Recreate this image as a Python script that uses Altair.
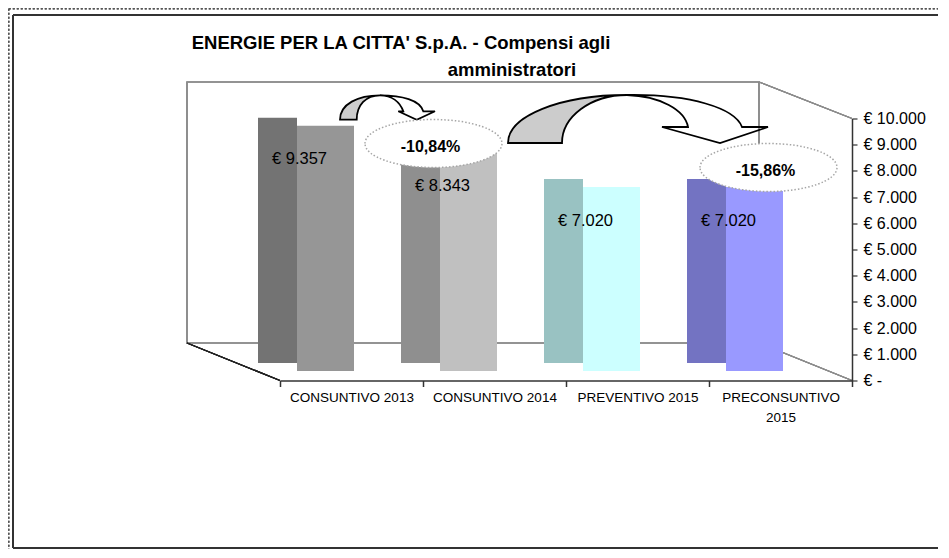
import altair as alt
import pandas as pd

# ---------------- data ----------------
categories = ["CONSUNTIVO 2013", "CONSUNTIVO 2014", "PREVENTIVO 2015", "PRECONSUNTIVO 2015"]
values = [9357, 8343, 7020, 7020]
front_colors = ["#969696", "#c0c0c0", "#ccffff", "#9999ff"]
side_colors = ["#737373", "#8f8f8f", "#99c2c2", "#7373c2"]
y_ticks = [0, 1000, 2000, 3000, 4000, 5000, 6000, 7000, 8000, 9000, 10000]
pct_labels = ["-10,84%", "-15,86%"]
pct_from = ["CONSUNTIVO 2013", "PREVENTIVO 2015"]
pct_to = ["CONSUNTIVO 2014", "PRECONSUNTIVO 2015"]
title_lines = ["ENERGIE PER LA CITTA' S.p.A. - Compensi agli", "amministratori"]
y_max = 10000

value_labels = ["€ " + f"{v:,}".replace(",", ".") for v in values]

bars = pd.DataFrame({
    "cat": categories,
    "value": values,
    "front": front_colors,
    "side": side_colors,
    "label": value_labels,
})

# ---------------- geometry / style ----------------
PW, PH = 572, 262                     # front plane of the 3D box (plot area)
PAD = {"left": 272, "top": 110.5, "right": 86, "bottom": 168.5}
DEPTH_X, DEPTH_Y = -93, -37
FONT = "Liberation Sans"

xscale = alt.Scale(domain=categories, paddingInner=0, paddingOuter=0)
yscale = alt.Scale(domain=[0, y_max], nice=False, zero=True)

XA = alt.Axis(
    orient="bottom", title="", labelAngle=0, zindex=1,
    tickBand="extent", tickSize=6, tickWidth=1.5, tickColor="#333",
    domainColor="#333", domainWidth=1.5, labelPadding=4,
    labelFont=FONT, labelFontSize=13.5, labelColor="#000", labelLimit=300,
    labelLineHeight=20,
    labelExpr="datum.label == 'PRECONSUNTIVO 2015' ? ['PRECONSUNTIVO', '2015'] : datum.label",
)
YA = alt.Axis(
    orient="right", title="", values=y_ticks, grid=False, zindex=1,
    tickSize=5, tickWidth=1.2, tickColor="#333", domainColor="#333", domainWidth=1.5,
    labelPadding=6, labelFont=FONT, labelFontSize=16, labelColor="#000",
    labelExpr="datum.value == 0 ? '€ -' : '€ ' + replace(format(datum.value, ','), ',', '.')",
)

first_cat, last_cat = categories[0], categories[-1]

front = alt.Chart(bars).mark_bar(
    size=57, xOffset=-26, yOffset=-9.5, y2Offset=-9.5, opacity=1,
).encode(
    x=alt.X("cat:N", scale=xscale, axis=XA, sort=categories),
    y=alt.Y("value:Q", stack=None, scale=yscale, axis=YA),
    y2=alt.Y2(datum=0),
    color=alt.Color("front:N", scale=None),
)
side = alt.Chart(bars).mark_bar(
    size=39, xOffset=-74, yOffset=-17.5, y2Offset=-17.5, opacity=1,
).encode(
    x=alt.X("cat:N", scale=xscale, axis=XA, sort=categories),
    y=alt.Y("value:Q", stack=None, scale=yscale, axis=YA),
    y2=alt.Y2(datum=0),
    color=alt.Color("side:N", scale=None),
)
labels = alt.Chart(bars).mark_text(
    dx=-52, dy=24, font=FONT, fontSize=16.5, color="#000", align="center", baseline="middle",
).encode(
    x=alt.X("cat:N", scale=xscale, axis=XA, sort=categories),
    y=alt.Y("value:Q", scale=yscale, axis=YA),
    text="label:N",
)

wall = alt.Chart(bars).mark_rect(
    fill="transparent", stroke="#8c8c8c", strokeWidth=1.2,
    xOffset=DEPTH_X, x2Offset=DEPTH_X, yOffset=DEPTH_Y - 0.5, y2Offset=DEPTH_Y + 0.5,
).encode(
    x=alt.X(datum=first_cat, type="nominal", bandPosition=0, scale=xscale, axis=XA),
    x2=alt.X2(datum=last_cat, bandPosition=1),
    y=alt.Y(datum=0, type="quantitative", scale=yscale, axis=YA),
    y2=alt.Y2(datum=y_max),
)
floor_left = alt.Chart(bars).mark_rule(
    stroke="#222", strokeWidth=1.2, xOffset=DEPTH_X, yOffset=DEPTH_Y - 0.5,
).encode(
    x=alt.X(datum=first_cat, type="nominal", bandPosition=0, scale=xscale, axis=XA),
    x2=alt.X2(datum=first_cat, bandPosition=0),
    y=alt.Y(datum=0, type="quantitative", scale=yscale, axis=YA),
    y2=alt.Y2(datum=0),
)
floor_right = alt.Chart(bars).mark_rule(
    stroke="#8c8c8c", strokeWidth=1.2, xOffset=DEPTH_X, yOffset=DEPTH_Y - 0.5,
).encode(
    x=alt.X(datum=last_cat, type="nominal", bandPosition=1, scale=xscale, axis=XA),
    x2=alt.X2(datum=last_cat, bandPosition=1),
    y=alt.Y(datum=0, type="quantitative", scale=yscale, axis=YA),
    y2=alt.Y2(datum=0),
)
top_right = alt.Chart(bars).mark_rule(
    stroke="#8c8c8c", strokeWidth=1.2, xOffset=DEPTH_X, yOffset=DEPTH_Y + 0.5,
).encode(
    x=alt.X(datum=last_cat, type="nominal", bandPosition=1, scale=xscale, axis=XA),
    x2=alt.X2(datum=last_cat, bandPosition=1),
    y=alt.Y(datum=y_max, type="quantitative", scale=yscale, axis=YA),
    y2=alt.Y2(datum=y_max),
)

arrow_gray_paths = [
    "M -11.5 1.2 C -11.5 -14.5 6.5 -23.2 28.5 -23.2 C 14.5 -23.2 5.2 -13.5 5.2 1.2 Z",
    "M -129.5 24.5 C -129.5 -2.5 -77.5 -23.5 -10.5 -23.5 C -46.5 -23.5 -75.5 -2 -75.5 24.5 Z",
]
arrow_line_paths = [
    "M 28.5 -23.2 C 50.5 -23.2 68.5 -18.5 71.8 -7.2 L 83.5 -7.2 L 65.2 1.2 L 46.8 -7.2 "
    "L 51.8 -7.2 C 48.5 -16.5 40.5 -23 28.5 -23.2 Z",
    "M -10.5 -23.5 C 52.5 -24.5 97.5 -10.5 104.5 8.5 L 130.5 8.5 L 82.5 24.5 L 24.5 8.5 "
    "L 50.5 8.5 C 47.5 -8.5 22.5 -22.5 -10.5 -23.5 Z",
]
arrows = pd.DataFrame({
    "cat": pct_from,
    "anchor": [y_max] * len(pct_from),
    "gray": arrow_gray_paths,
    "line": arrow_line_paths,
})
arrow_gray = alt.Chart(arrows).mark_point(
    size=4, filled=True, fill="#cccccc", stroke="#000", strokeWidth=1.8, opacity=1,
).encode(
    x=alt.X("cat:N", scale=xscale, axis=XA, sort=categories),
    y=alt.Y("anchor:Q", scale=yscale, axis=YA),
    shape=alt.Shape("gray:N", scale=None),
)
arrow_line = alt.Chart(arrows).mark_point(
    size=4, filled=False, fill="transparent", stroke="#000", strokeWidth=1.8, opacity=1,
).encode(
    x=alt.X("cat:N", scale=xscale, axis=XA, sort=categories),
    y=alt.Y("anchor:Q", scale=yscale, axis=YA),
    shape=alt.Shape("line:N", scale=None),
)

RX, RY, K = 68.5, 24.0, 0.5523
ellipse_path = (
    f"M {-RX} 0 C {-RX} {-RY*K:.2f} {-RX*K:.2f} {-RY} 0 {-RY} "
    f"C {RX*K:.2f} {-RY} {RX} {-RY*K:.2f} {RX} 0 "
    f"C {RX} {RY*K:.2f} {RX*K:.2f} {RY} 0 {RY} "
    f"C {-RX*K:.2f} {RY} {-RX} {RY*K:.2f} {-RX} 0 Z"
)
ellipse_offsets = [(-61, 25), (-12, 49)]

ann_layers = []
for lab, cat, (ox, oy) in zip(pct_labels, pct_to, ellipse_offsets):
    d = pd.DataFrame({"cat": [cat], "anchor": [y_max], "pct": [lab]})
    ell = alt.Chart(d).mark_point(
        shape=ellipse_path, size=4, filled=True, fill="white", stroke="#a6a6a6",
        strokeWidth=1.5, strokeDash=[1.5, 2], opacity=1, xOffset=ox, yOffset=oy,
    ).encode(
        x=alt.X("cat:N", scale=xscale, axis=XA, sort=categories),
        y=alt.Y("anchor:Q", scale=yscale, axis=YA),
    )
    txt = alt.Chart(d).mark_text(
        dx=ox - 3, dy=oy + 3, font=FONT, fontSize=16, fontWeight="bold", color="#000",
        align="center", baseline="middle",
    ).encode(
        x=alt.X("cat:N", scale=xscale, axis=XA, sort=categories),
        y=alt.Y("anchor:Q", scale=yscale, axis=YA),
        text="pct:N",
    )
    ann_layers += [ell, txt]

tdf = pd.DataFrame({"t": title_lines})
title1 = alt.Chart(tdf.iloc[[0]]).mark_text(
    font=FONT, fontSize=18.5, fontWeight="bold", align="left", baseline="alphabetic", color="#000",
).encode(x=alt.value(-88.3), y=alt.value(-69.5), text="t:N")
title2 = alt.Chart(tdf.iloc[[1]]).mark_text(
    font=FONT, fontSize=18.5, fontWeight="bold", align="left", baseline="alphabetic", color="#000",
).encode(x=alt.value(167.7), y=alt.value(-42.8), text="t:N")

FL, FT, FB, FR = -267, -103.5, 429.5, 660
frame_left = alt.Chart(tdf).mark_rule(stroke="#333", strokeWidth=2).encode(
    x=alt.value(FL), y=alt.value(FT), y2=alt.value(FB))
frame_top = alt.Chart(tdf).mark_rule(stroke="#333", strokeWidth=2).encode(
    x=alt.value(FL), x2=alt.value(FR), y=alt.value(FT))
frame_bottom = alt.Chart(tdf).mark_rule(stroke="#333", strokeWidth=2).encode(
    x=alt.value(FL), x2=alt.value(FR), y=alt.value(FB))
DL, DT = -271.25, -109.75
dot_left = alt.Chart(tdf).mark_rule(stroke="#555", strokeWidth=1.5, strokeDash=[2, 2]).encode(
    x=alt.value(DL), y=alt.value(DT), y2=alt.value(FB + 2))
dot_top = alt.Chart(tdf).mark_rule(stroke="#555", strokeWidth=1.5, strokeDash=[2, 2]).encode(
    x=alt.value(DL), x2=alt.value(FR), y=alt.value(DT))

chart = alt.layer(
    wall, floor_left, floor_right, top_right, side, front, labels,
    arrow_gray, arrow_line, *ann_layers,
    title1, title2, frame_left, frame_top, frame_bottom, dot_left, dot_top,
).properties(
    width=PW, height=PH,
    autosize=alt.AutoSizeParams(type="none"),
    padding=PAD,
    background="white",
).configure_view(stroke=None)

chart.save("out.html", embed_options={"renderer": "svg", "actions": False})
